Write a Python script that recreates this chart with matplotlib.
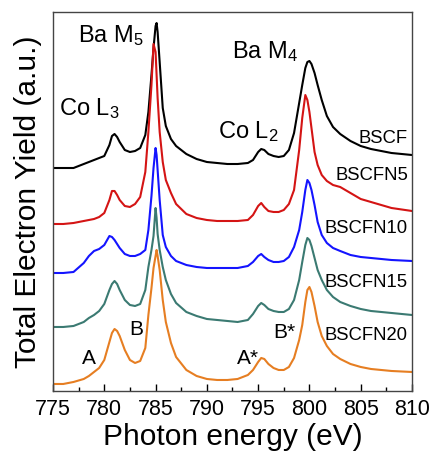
import numpy as np
import matplotlib
matplotlib.use("Agg")
import matplotlib.pyplot as plt

plt.rcParams['font.family'] = ['Liberation Sans', 'DejaVu Sans']
plt.rcParams['mathtext.default'] = 'regular'

# photon energy grid (eV), shared by all spectra
energy = [775, 776, 777, 778, 778.5, 779, 779.5, 780, 780.5, 780.75,
          781, 781.25, 781.5, 782, 782.5, 783, 783.5, 784, 784.3, 784.6,
          784.8, 785, 785.1, 785.2, 785.4, 785.7, 786, 786.5, 787, 788,
          789, 790, 791, 792, 793, 794, 794.5, 795, 795.3, 795.6,
          796, 796.5, 797, 797.5, 798, 798.5, 799, 799.3, 799.6, 799.8,
          800, 800.2, 800.5, 800.8, 801.2, 801.7, 802.3, 803, 804, 805,
          806, 808, 810]

# TEY (a.u.), already stacked with vertical offsets
bscf = [232, 232, 232, 236, 238, 240, 242, 244, 255, 264,
        266, 263, 258, 250, 248, 249, 252, 265, 288, 325,
        352, 374, 377, 368, 338, 292, 274, 261, 254, 246,
        241, 238, 237, 236, 236, 237, 240, 248, 251, 250,
        246, 244, 243, 244, 250, 267, 297, 315, 332, 338,
        339, 336, 327, 315, 300, 284, 273, 266, 259, 254,
        251, 247, 245]
bscfn5 = [176, 176, 177, 179, 180, 181, 183, 187, 200, 209,
          209, 205, 200, 194, 193, 196, 203, 228, 268, 315,
          356, 348, 325, 302, 268, 238, 220, 207, 196, 186,
          182, 180, 179, 179, 179, 180, 185, 194, 197, 193,
          189, 188, 188, 190, 196, 210, 250, 282, 305, 300,
          288, 272, 248, 235, 225, 219, 215, 213, 207, 201,
          198, 192, 189]
bscfn10 = [127, 127, 128, 137, 144, 149, 151, 155, 164, 163,
           160, 156, 152, 146, 144, 144, 146, 150, 170, 204,
           232, 252, 245, 230, 200, 165, 153, 144, 139, 135,
           133, 132, 132, 132, 132, 134, 138, 144, 146, 143,
           140, 138, 138, 139, 143, 153, 170, 188, 210, 220,
           217, 210, 195, 178, 165, 157, 152, 149, 145, 143,
           142, 140, 139]
bscfn15 = [73, 73, 74, 78, 82, 85, 89, 96, 110, 116,
           119, 116, 110, 100, 95, 94, 96, 110, 133, 150,
           164, 192, 182, 166, 150, 133, 120, 106, 97, 88,
           84, 81, 80, 79, 78, 80, 86, 94, 97, 95,
           91, 89, 88, 88, 91, 100, 120, 138, 155, 162,
           160, 154, 142, 130, 120, 110, 103, 98, 94, 91,
           89, 87, 85]
bscfn20 = [16, 16, 18, 21, 24, 28, 32, 40, 58, 67,
           71, 69, 64, 50, 40, 37, 39, 52, 85, 112,
           132, 144, 150, 144, 130, 100, 78, 57, 43, 30,
           24, 21, 20, 20, 21, 25, 30, 38, 42, 41,
           36, 32, 30, 30, 33, 42, 60, 75, 98, 110,
           113, 108, 94, 78, 64, 54, 46, 41, 36, 33,
           31, 29, 28]

names = ['BSCF', 'BSCFN5', 'BSCFN10', 'BSCFN15', 'BSCFN20']
colors = ['black', '#d41414', '#1414ff', '#3b7a72', '#e67e22']
label_y = [257, 220, 167, 113, 60]

fig = plt.figure(figsize=(4.33, 4.55), dpi=100)
ax = fig.add_axes([0.1224, 0.1407, 0.8291, 0.8329])

for y, c in zip([bscf, bscfn5, bscfn10, bscfn15, bscfn20], colors):
    ax.plot(energy, y, color=c, lw=1.5, solid_joinstyle='round')

for n, ly in zip(names, label_y):
    ax.text(809.6, ly, n, ha='right', va='baseline', fontsize=13.3)

# edge labels
ax.text(777.4, 358, 'Ba M$_5$', fontsize=17, va='baseline')
ax.text(775.6, 285, 'Co L$_3$', fontsize=17, va='baseline')
ax.text(791.1, 262, 'Co L$_2$', fontsize=17, va='baseline')
ax.text(792.45, 342, 'Ba M$_4$', fontsize=17, va='baseline')

# peak markers
ax.text(778.5, 36, 'A', fontsize=15, ha='center', va='baseline')
ax.text(783.1, 65, 'B', fontsize=15, ha='center', va='baseline')
ax.text(792.9, 36, 'A*', fontsize=15, va='baseline')
ax.text(796.5, 62, 'B*', fontsize=15, va='baseline')

ax.set_xlim(775, 810)
ax.set_ylim(9, 388)
ax.set_xticks(np.arange(775, 811, 5))
ax.set_xticks(np.arange(777.5, 810, 5), minor=True)
ax.set_yticks([])
ax.tick_params(axis='x', which='major', direction='in', length=5, width=1,
               labelsize=15.5, pad=6)
ax.tick_params(axis='x', which='minor', direction='in', length=3, width=1)
for s in ax.spines.values():
    s.set_color('#444444')
    s.set_linewidth(1)

ax.set_xlabel('Photon energy (eV)', fontsize=21.5, labelpad=2)
ax.set_ylabel('Total Electron Yield (a.u.)', fontsize=21.5, labelpad=8)

fig.savefig('out.png', dpi=100)
